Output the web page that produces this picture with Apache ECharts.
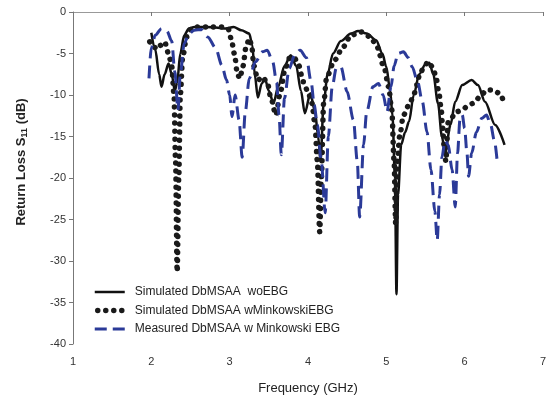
<!DOCTYPE html>
<html><head><meta charset="utf-8">
<script src="https://cdn.jsdelivr.net/npm/echarts@6/dist/echarts.min.js"></script>
<style>html,body{margin:0;padding:0;background:#fff}#c{width:549px;height:400px}</style>
</head><body><div id="c"></div>
<script>
var seriesNames = ['Simulated DbMSAA  woEBG', 'Simulated DbMSAA wMinkowskiEBG', 'Measured DbMSAA w Minkowski EBG'];
var xTicks = [1, 2, 3, 4, 5, 6, 7];
var yTicks = [0, -5, -10, -15, -20, -25, -30, -35, -40];

var freqWo = [2.00,2.05,2.10,2.13,2.17,2.22,2.26,2.30,2.33,2.37,2.42,2.48,2.55,2.70,2.85,2.95,3.05,3.15,3.25,3.29,3.32,3.36,3.41,3.45,3.50,3.56,3.62,3.70,3.78,3.85,3.91,3.96,4.03,4.09,4.13,4.16,4.20,4.25,4.32,4.42,4.55,4.64,4.75,4.87,4.95,5.00,5.05,5.08,5.11,5.13,5.15,5.19,5.24,5.29,5.35,5.42,5.50,5.55,5.60,5.66,5.71,5.75,5.82,5.88,5.97,6.09,6.17,6.26,6.39,6.51];
var s11Wo = [-2.5,-4.5,-7.5,-9.0,-7.5,-6.2,-7.5,-9.5,-8.5,-5.0,-2.8,-2.0,-1.8,-1.8,-1.9,-2.0,-1.8,-2.2,-2.6,-4.0,-7.5,-10.3,-8.6,-8.0,-9.5,-11.0,-9.0,-6.5,-5.2,-6.5,-9.5,-12.2,-9.8,-12.0,-15.0,-18.0,-11.0,-7.5,-5.0,-3.5,-2.6,-2.3,-2.6,-3.4,-5.0,-6.6,-9.5,-12.6,-20.0,-34.0,-22.0,-16.0,-14.5,-13.2,-10.0,-7.5,-6.3,-6.1,-7.5,-11.0,-15.0,-17.0,-13.6,-10.8,-8.8,-8.2,-8.8,-10.8,-13.6,-16.0];

var freqMink = [1.98,2.03,2.08,2.12,2.17,2.22,2.26,2.29,2.31,2.33,2.35,2.37,2.40,2.45,2.52,2.60,2.75,2.90,2.98,3.02,3.06,3.10,3.13,3.17,3.21,3.25,3.28,3.31,3.36,3.42,3.48,3.53,3.59,3.65,3.70,3.76,3.82,3.88,3.94,4.00,4.05,4.09,4.12,4.15,4.17,4.20,4.24,4.34,4.45,4.55,4.68,4.80,4.88,4.97,5.03,5.07,5.10,5.12,5.14,5.17,5.22,5.30,5.35,5.39,5.43,5.49,5.53,5.59,5.63,5.67,5.70,5.72,5.74,5.76,5.79,5.90,5.97,6.03,6.11,6.20,6.28,6.36,6.45,6.49];
var s11Mink = [-3.6,-4.2,-4.5,-4.0,-3.6,-5.0,-6.5,-10.0,-18.0,-31.3,-20.0,-10.0,-5.5,-3.0,-1.9,-1.8,-1.8,-1.8,-2.0,-3.2,-5.0,-7.5,-8.0,-6.5,-4.2,-3.2,-4.0,-6.5,-8.2,-7.8,-8.5,-10.5,-12.4,-9.6,-7.2,-5.6,-5.4,-6.4,-8.4,-9.6,-11.0,-13.6,-18.0,-26.5,-20.0,-11.0,-7.8,-5.8,-4.2,-2.8,-2.4,-3.0,-4.2,-6.6,-9.0,-11.8,-18.0,-25.5,-18.0,-15.0,-12.4,-11.0,-10.0,-8.8,-7.3,-6.6,-6.0,-6.6,-7.6,-9.6,-11.6,-14.0,-16.4,-18.0,-13.3,-12.0,-11.8,-11.4,-11.0,-10.2,-9.4,-9.4,-9.8,-10.6];

var freqMeas = [1.97,2.00,2.05,2.13,2.20,2.26,2.30,2.34,2.37,2.42,2.48,2.55,2.64,2.72,2.82,2.90,2.96,3.00,3.03,3.07,3.12,3.16,3.20,3.25,3.33,3.42,3.48,3.55,3.60,3.63,3.66,3.70,3.76,3.83,3.90,3.98,4.04,4.08,4.12,4.17,4.22,4.26,4.31,4.36,4.42,4.50,4.58,4.63,4.66,4.71,4.75,4.83,4.90,4.96,5.01,5.06,5.10,5.15,5.22,5.28,5.33,5.40,5.46,5.52,5.57,5.62,5.65,5.68,5.71,5.75,5.79,5.84,5.88,5.91,5.94,5.97,6.00,6.03,6.05,6.09,6.15,6.22,6.28,6.33,6.38,6.42];
var s11Meas = [-8.0,-4.3,-2.8,-2.0,-2.3,-3.5,-7.2,-11.8,-7.5,-3.8,-2.6,-2.2,-2.1,-3.0,-4.3,-6.4,-8.2,-10.0,-12.6,-10.0,-13.0,-17.5,-12.0,-8.0,-6.0,-4.8,-4.6,-6.0,-8.5,-12.4,-17.2,-10.4,-6.8,-5.2,-4.6,-5.5,-8.4,-11.2,-13.6,-18.0,-24.2,-15.0,-9.0,-6.8,-6.6,-9.6,-13.0,-18.0,-24.7,-16.0,-12.0,-9.0,-8.6,-10.0,-12.0,-9.0,-6.5,-5.0,-4.8,-5.5,-6.6,-8.4,-10.8,-14.5,-19.0,-24.0,-27.5,-22.0,-17.5,-15.5,-16.0,-19.0,-23.5,-17.0,-13.0,-12.4,-14.0,-17.0,-19.8,-17.0,-14.5,-12.8,-12.4,-13.5,-15.5,-18.4];

function pairs(xs, ys) { return xs.map(function (x, i) { return [x, ys[i]]; }); }

var font = 'Liberation Sans, Arial, sans-serif';
var styleWo = {color: '#111', width: 2.5};
var styleMink = {color: '#1a1a1a', width: 5.5, type: [0.01, 8], cap: 'round'};
var styleMeas = {color: '#2b3a98', width: 3, type: [13, 7]};

var chart = echarts.init(document.getElementById('c'), null, {renderer: 'canvas'});
chart.setOption({
  animation: false,
  backgroundColor: '#fff',
  grid: {left: 73, right: 0, top: 12, bottom: 56},
  legend: {
    orient: 'vertical', left: 87, top: 281, itemWidth: 30, itemHeight: 14, itemGap: 6.5,
    itemStyle: {opacity: 0},
    textStyle: {fontFamily: font, fontSize: 12, color: '#222', padding: [0, 0, 0, 5]},
    data: [
      {name: seriesNames[0], lineStyle: styleWo},
      {name: seriesNames[1], lineStyle: {color: '#1a1a1a', width: 5.5, type: [0.01, 8], cap: 'round', dashOffset: -3}},
      {name: seriesNames[2], lineStyle: {color: '#2b3a98', width: 3, type: [12, 6], dashOffset: 0}}
    ]
  },
  xAxis: [{
    type: 'value', min: xTicks[0], max: xTicks[xTicks.length - 1], interval: 1,
    name: 'Frequency (GHz)', nameLocation: 'middle', nameGap: 38,
    nameTextStyle: {fontFamily: font, fontSize: 13, color: '#222'},
    axisLine: {lineStyle: {color: '#777', width: 1}},
    axisTick: {show: true, length: 4, lineStyle: {color: '#777'}},
    axisLabel: {fontFamily: font, fontSize: 11, color: '#333', margin: 12},
    splitLine: {show: false}
  }, {
    type: 'value', position: 'top', min: 1, max: 7,
    axisLine: {show: true, lineStyle: {color: '#999', width: 1}},
    axisTick: {show: false}, axisLabel: {show: false}, splitLine: {show: false}
  }],
  yAxis: {
    type: 'value', min: yTicks[yTicks.length - 1], max: yTicks[0], interval: 5,
    name: '{a|Return Loss S}{s|11}{a| (dB)}', nameLocation: 'middle', nameGap: 44,
    nameTextStyle: {
      padding: [0, 0, 0, 32],
      rich: {
        a: {fontFamily: font, fontSize: 13, fontWeight: 'bold', color: '#222'},
        s: {fontFamily: font, fontSize: 9, fontWeight: 'bold', color: '#222', verticalAlign: 'bottom', padding: [6, 0, 0, 0]}
      }
    },
    axisLine: {show: true, lineStyle: {color: '#777', width: 1}},
    axisTick: {show: true, length: 4, lineStyle: {color: '#777'}},
    axisLabel: {fontFamily: font, fontSize: 11, color: '#333', margin: 7},
    splitLine: {show: false}
  },
  series: [{
    name: seriesNames[0], type: 'line', data: pairs(freqWo, s11Wo),
    showSymbol: false, symbol: 'none', smooth: 0.3, smoothMonotone: 'x',
    lineStyle: styleWo, itemStyle: {color: '#111'}
  }, {
    name: seriesNames[1], type: 'line', data: pairs(freqMink, s11Mink),
    showSymbol: false, symbol: 'none', smooth: 0.3, smoothMonotone: 'x',
    lineStyle: styleMink, itemStyle: {color: '#1a1a1a'}
  }, {
    name: seriesNames[2], type: 'line', data: pairs(freqMeas, s11Meas),
    showSymbol: false, symbol: 'none', smooth: 0.3, smoothMonotone: 'x',
    lineStyle: styleMeas, itemStyle: {color: '#2b3a98'}
  }]
});
</script></body></html>
